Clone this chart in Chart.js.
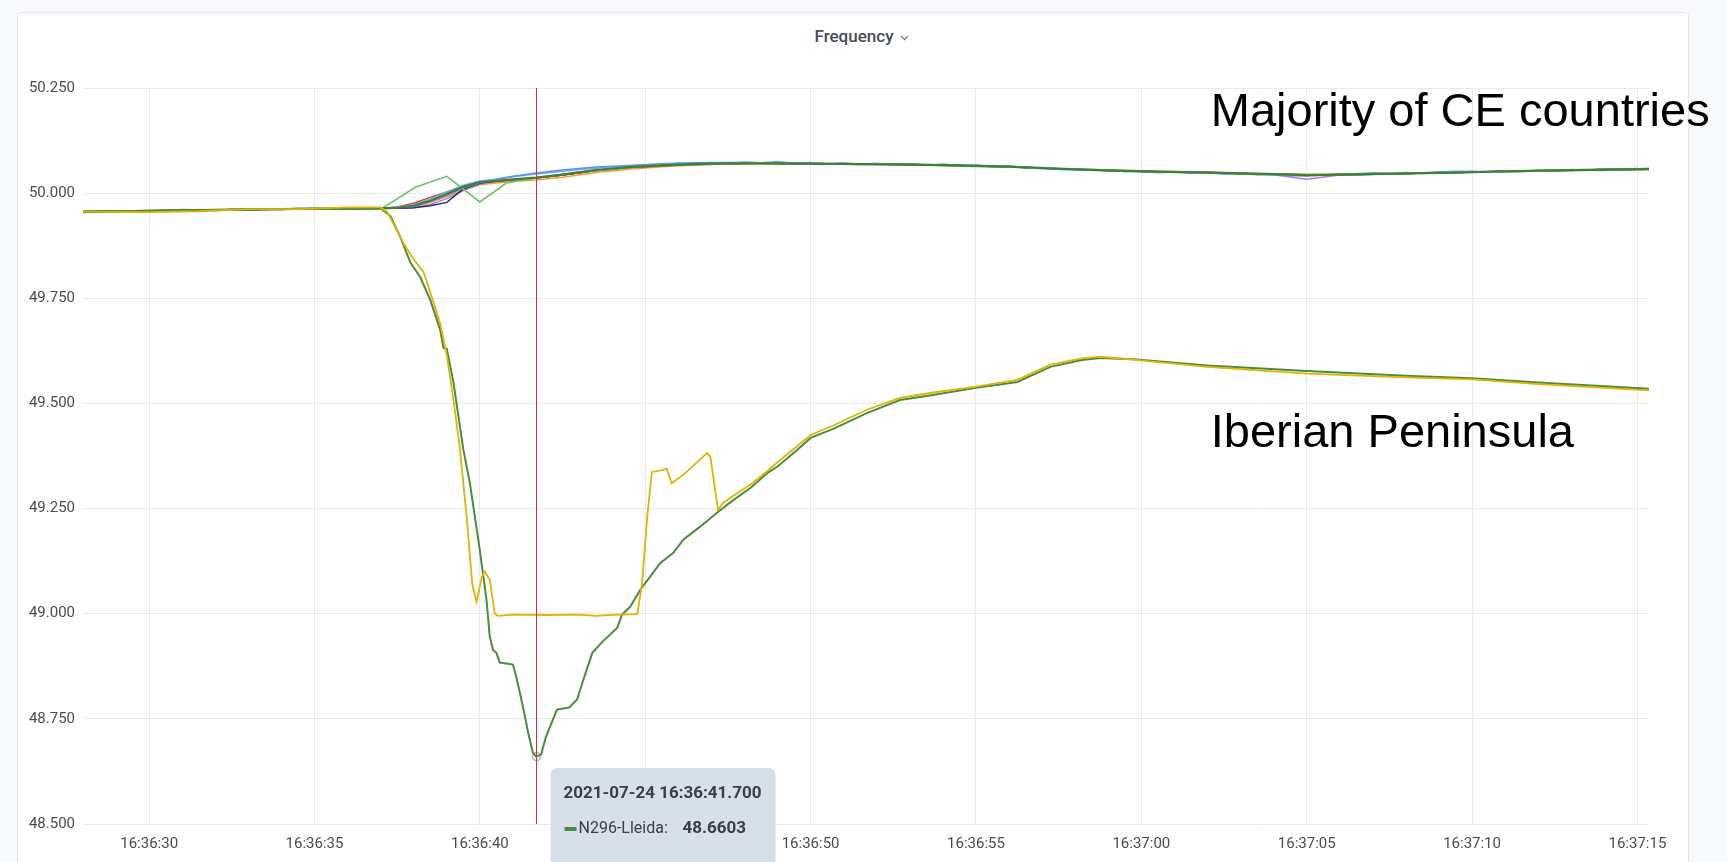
<!DOCTYPE html>
<html>
<head>
<meta charset="utf-8">
<title>Frequency</title>
<script src="https://cdn.jsdelivr.net/npm/chart.js@4.4.1/dist/chart.umd.min.js"></script>
<style>
  html, body { margin: 0; padding: 0; background: #f8f9fb; }
  body { width: 1727px; height: 862px; position: relative; overflow: hidden; }
  .panel { position: absolute; left: 17px; top: 12px; width: 1672px; height: 900px; background: #fff;
           border: 1px solid #e1e4ea; border-radius: 4px; box-sizing: border-box; }
  .panel-title { position: absolute; left: 0; top: 26px; width: 1724px; text-align: center;
                 font: 500 17px Roboto, sans-serif; color: #464c54; }
  .panel-title svg { margin-left: 7px; vertical-align: middle; }
  canvas { position: absolute; left: 0; top: 0; }
</style>
</head>
<body>
<div class="panel"></div>
<div class="panel-title">Frequency<svg width="9" height="6" viewBox="0 0 9 6"><path d="M1 1 L4.5 4.5 L8 1" fill="none" stroke="#7b8087" stroke-width="1.3"/></svg></div>
<canvas id="freqChart" width="1727" height="862"></canvas>
<script>
// time is seconds after 16:36:00, values in Hz
const xTicks = [30, 35, 40, 45, 50, 55, 60, 65, 70, 75];
const yTicks = [48.5, 48.75, 49, 49.25, 49.5, 49.75, 50, 50.25];

// Iberian peninsula, N296-Lleida (green)
const lleidaTimes = [28, 30, 32, 34, 36, 37.0, 37.3, 37.6, 37.9, 38.2, 38.5, 38.8, 38.9, 39.0, 39.2,
  39.5, 39.7, 40.0, 40.2, 40.3, 40.4, 40.5, 40.6, 41.0, 41.1, 41.3, 41.46, 41.6, 41.7, 41.85, 42.0,
  42.33, 42.7, 42.94, 43.1, 43.4, 43.7, 44.15, 44.3, 44.55, 44.85, 45.15, 45.45, 45.85, 46.15, 46.66,
  47.17, 47.66, 48.2, 48.7, 49.0, 49.6, 50.0, 50.7, 51.7, 52.7, 53.7, 55.0, 56.25, 57.25, 58.2, 58.76,
  59.76, 62, 65, 68, 70, 72, 75.35];
const lleidaValues = [49.956, 49.958, 49.960, 49.962, 49.963, 49.964, 49.945, 49.895, 49.835, 49.800,
  49.746, 49.675, 49.632, 49.630, 49.55, 49.39, 49.31, 49.15, 49.033, 48.945, 48.914, 48.907, 48.884,
  48.879, 48.85, 48.78, 48.717, 48.67, 48.6603, 48.665, 48.708, 48.772, 48.777, 48.796, 48.836, 48.907,
  48.933, 48.966, 48.998, 49.017, 49.057, 49.088, 49.12, 49.145, 49.176, 49.207, 49.24, 49.27, 49.30,
  49.335, 49.35, 49.39, 49.418, 49.44, 49.477, 49.508, 49.52, 49.537, 49.551, 49.587, 49.603, 49.608,
  49.605, 49.59, 49.577, 49.566, 49.56, 49.55, 49.535];

// Iberian peninsula, second station (yellow)
const iberYellowTimes = [28, 30, 31.5, 33, 34.5, 36, 37.0, 37.2, 37.4, 37.7, 38.0, 38.3, 38.6, 38.8,
  39.0, 39.1, 39.25, 39.4, 39.6, 39.77, 39.9, 40.06, 40.15, 40.3, 40.45, 40.55, 41.0, 42.0, 43.0, 43.5,
  44.0, 44.76, 44.9, 45.06, 45.2, 45.55, 45.65, 45.8, 46.15, 46.87, 46.97, 47.2, 47.36, 47.7, 48.2,
  48.7, 49.0, 50.0, 50.7, 51.7, 52.7, 53.7, 55.0, 56.25, 57.25, 58.2, 58.76, 59.76, 60.5, 62, 65, 68,
  70, 72, 75.35];
const iberYellowValues = [49.956, 49.955, 49.957, 49.962, 49.962, 49.966, 49.966, 49.955, 49.925,
  49.880, 49.842, 49.812, 49.740, 49.690, 49.615, 49.563, 49.480, 49.390, 49.230, 49.070, 49.028,
  49.088, 49.100, 49.080, 49.000, 48.995, 48.998, 48.997, 48.998, 48.995, 48.997, 48.999, 49.070,
  49.230, 49.337, 49.342, 49.345, 49.310, 49.330, 49.382, 49.373, 49.247, 49.264, 49.282, 49.308,
  49.340, 49.360, 49.425, 49.448, 49.485, 49.513, 49.526, 49.540, 49.556, 49.592, 49.607, 49.611,
  49.604, 49.598, 49.587, 49.571, 49.562, 49.557, 49.546, 49.531];

// continental europe stations, shared time grid
const ceTimes = [28, 29, 30, 31, 32, 33, 34, 35, 36, 37, 37.5, 38, 38.5, 39, 39.5, 40, 40.5, 41, 41.7,
  42.5, 43.5, 44.5, 45.5, 46.5, 47.5, 48.5, 50, 51.5, 53, 54.5, 56, 57.5, 59, 60.5, 62, 63, 64, 65, 66,
  67, 68, 69.5, 71, 72.5, 74, 75.35];
const ceGreen = [49.956, 49.957, 49.958, 49.959, 49.960, 49.961, 49.962, 49.963, 49.963, 49.964,
  49.965, 49.970, 49.982, 49.998, 50.015, 50.026, 50.029, 50.033, 50.037, 50.044, 50.055, 50.062,
  50.066, 50.069, 50.071, 50.071, 50.070, 50.069, 50.068, 50.066, 50.063, 50.058, 50.054, 50.051,
  50.049, 50.047, 50.045, 50.043, 50.044, 50.045, 50.047, 50.049, 50.052, 50.054, 50.056, 50.057];
const ceBlue = [49.954, 49.958, 49.957, 49.961, 49.959, 49.963, 49.961, 49.964, 49.962, 49.965,
  49.966, 49.968, 49.980, 49.995, 50.012, 50.025, 50.033, 50.040, 50.048, 50.055, 50.062, 50.066,
  50.070, 50.072, 50.073, 50.072, 50.071, 50.068, 50.069, 50.064, 50.062, 50.056, 50.053, 50.049,
  50.050, 50.046, 50.044, 50.041, 50.045, 50.048, 50.046, 50.052, 50.050, 50.055, 50.054, 50.059];
const ceOrange = [49.956, 49.957, 49.958, 49.959, 49.960, 49.961, 49.962, 49.962, 49.963, 49.964,
  49.964, 49.967, 49.978, 49.992, 50.008, 50.020, 50.024, 50.028, 50.031, 50.038, 50.049, 50.057,
  50.063, 50.067, 50.069, 50.070, 50.070, 50.069, 50.067, 50.066, 50.062, 50.058, 50.055, 50.052,
  50.050, 50.048, 50.046, 50.045, 50.045, 50.046, 50.047, 50.049, 50.051, 50.053, 50.055, 50.056];
const ceRed = [49.956, 49.957, 49.958, 49.959, 49.960, 49.961, 49.962, 49.963, 49.963, 49.964,
  49.967, 49.976, 49.990, 50.003, 50.017, 50.026, 50.029, 50.032, 50.036, 50.043, 50.053, 50.061,
  50.065, 50.068, 50.070, 50.071, 50.070, 50.069, 50.068, 50.066, 50.063, 50.058, 50.054, 50.051,
  50.049, 50.047, 50.045, 50.044, 50.044, 50.045, 50.047, 50.049, 50.052, 50.054, 50.056, 50.057];
const cePurple = [49.956, 49.957, 49.958, 49.959, 49.960, 49.961, 49.962, 49.963, 49.963, 49.964,
  49.964, 49.965, 49.973, 49.987, 50.006, 50.021, 50.028, 50.032, 50.036, 50.043, 50.054, 50.061,
  50.066, 50.069, 50.070, 50.071, 50.070, 50.069, 50.068, 50.066, 50.063, 50.058, 50.054, 50.051,
  50.049, 50.046, 50.044, 50.033, 50.043, 50.045, 50.047, 50.049, 50.052, 50.054, 50.056, 50.057];
const ceNavy = [49.956, 49.957, 49.958, 49.959, 49.960, 49.961, 49.962, 49.963, 49.963, 49.964,
  49.964, 49.965, 49.970, 49.978, 50.010, 50.024, 50.028, 50.032, 50.036, 50.043, 50.054, 50.061,
  50.066, 50.069, 50.071, 50.071, 50.070, 50.069, 50.068, 50.066, 50.063, 50.058, 50.054, 50.051,
  50.049, 50.047, 50.045, 50.043, 50.044, 50.045, 50.047, 50.049, 50.052, 50.054, 50.056, 50.057];
const ceCyan = [49.955, 49.956, 49.958, 49.958, 49.960, 49.960, 49.962, 49.962, 49.963, 49.963,
  49.965, 49.969, 49.981, 49.996, 50.013, 50.024, 50.028, 50.032, 50.037, 50.045, 50.055, 50.062,
  50.066, 50.069, 50.071, 50.071, 50.070, 50.069, 50.067, 50.066, 50.062, 50.058, 50.054, 50.051,
  50.048, 50.047, 50.045, 50.043, 50.044, 50.045, 50.047, 50.049, 50.052, 50.054, 50.056, 50.057];

// the noisiest light blue CE trace, sampled every half second
const skyTimes = [28, 28.5, 29, 29.5, 30, 30.5, 31, 31.5, 32, 32.5, 33, 33.5, 34, 34.5, 35, 35.5, 36,
  36.5, 37, 37.5, 38, 38.5, 39, 39.5, 40, 40.5, 41, 41.5, 42, 42.5, 43, 43.5, 44, 44.5, 45, 45.5, 46,
  46.5, 47, 47.5, 48, 48.5, 49, 49.5, 50, 50.5, 51, 51.5, 52, 52.5, 53, 53.5, 54, 54.5, 55, 55.5, 56,
  56.5, 57, 57.5, 58, 58.5, 59, 59.5, 60, 60.5, 61, 61.5, 62, 62.5, 63, 63.5, 64, 64.5, 65, 65.5, 66,
  66.5, 67, 67.5, 68, 68.5, 69, 69.5, 70, 70.5, 71, 71.5, 72, 72.5, 73, 73.5, 74, 74.5, 75];
const skyValues = [49.954, 49.957, 49.955, 49.958, 49.956, 49.959, 49.957, 49.961, 49.958, 49.962,
  49.960, 49.963, 49.961, 49.964, 49.961, 49.965, 49.962, 49.965, 49.963, 49.967, 49.972, 49.986,
  50.003, 50.019, 50.029, 50.033, 50.039, 50.044, 50.048, 50.052, 50.056, 50.059, 50.063, 50.064,
  50.067, 50.068, 50.071, 50.070, 50.073, 50.071, 50.074, 50.072, 50.075, 50.071, 50.073, 50.070,
  50.072, 50.069, 50.071, 50.068, 50.070, 50.066, 50.069, 50.065, 50.067, 50.063, 50.065, 50.060,
  50.061, 50.057, 50.058, 50.054, 50.056, 50.051, 50.053, 50.049, 50.051, 50.047, 50.049, 50.045,
  50.047, 50.043, 50.045, 50.041, 50.044, 50.042, 50.046, 50.044, 50.048, 50.046, 50.049, 50.047,
  50.051, 50.048, 50.052, 50.049, 50.053, 50.051, 50.055, 50.052, 50.056, 50.054, 50.058, 50.055,
  50.059];

// the one CE trace with a zigzag while the others rise
const zigTimes = [28, 32, 36, 37.05, 38.05, 39.0, 40.0, 40.8, 41.7, 43, 45, 48, 52, 56, 60, 65, 70, 75.35];
const zigValues = [49.956, 49.960, 49.963, 49.964, 50.014, 50.040, 49.979, 50.024, 50.036, 50.050,
  50.064, 50.071, 50.069, 50.063, 50.052, 50.043, 50.050, 50.057];

// hover readout
const hoverTime = 41.7;
const hoverValue = 48.6603;
const hoverStamp = '2021-07-24 16:36:41.700';
const hoverSeries = 'N296-Lleida';

// annotations
const noteLabels = ['Majority of CE countries', 'Iberian Peninsula'];
const noteTimes = [62.1, 62.1];
const noteValues = [50.19, 49.428];

const pts = (ts, vs) => ts.map((t, i) => ({ x: t, y: vs[i] }));

function clock(t) {
  const m = 36 + Math.floor(t / 60);
  const s = Math.round(t % 60);
  return '16:' + m + ':' + String(s).padStart(2, '0');
}

// first entry is drawn on top
const series = [
  { label: 'Iberian yellow', data: pts(iberYellowTimes, iberYellowValues), color: '#e0b400', width: 1.8 },
  { label: 'N296-Lleida', data: pts(lleidaTimes, lleidaValues), color: '#4a8c3b', width: 2 },
  { label: 'CE green', data: pts(ceTimes, ceGreen), color: '#3f8133', width: 2.2 },
  { label: 'CE zigzag', data: pts(zigTimes, zigValues), color: '#73bf69', width: 1.6 },
  { label: 'CE blue', data: pts(ceTimes, ceBlue), color: '#5794f2', width: 1.5 },
  { label: 'CE light blue', data: pts(skyTimes, skyValues), color: '#73a6ea', width: 1.5 },
  { label: 'CE red', data: pts(ceTimes, ceRed), color: '#e02f44', width: 1.5 },
  { label: 'CE navy', data: pts(ceTimes, ceNavy), color: '#2c2a63', width: 1.5 },
  { label: 'CE purple', data: pts(ceTimes, cePurple), color: '#b877d9', width: 1.5 },
  { label: 'CE cyan', data: pts(ceTimes, ceCyan), color: '#6ed0e0', width: 1.5 },
  { label: 'CE orange', data: pts(ceTimes, ceOrange), color: '#ff9830', width: 1.5 },
];

const overlay = {
  id: 'overlay',
  afterDatasetsDraw(chart) {
    const { ctx, chartArea, scales } = chart;
    const hx = Math.round(scales.x.getPixelForValue(hoverTime)) + 0.5;
    const hy = scales.y.getPixelForValue(hoverValue);
    ctx.save();
    // crosshair
    ctx.strokeStyle = '#d1302b';
    ctx.lineWidth = 1;
    ctx.beginPath();
    ctx.moveTo(hx, chartArea.top);
    ctx.lineTo(hx, chartArea.bottom);
    ctx.stroke();
    ctx.beginPath();
    ctx.arc(hx, hy, 4, 0, Math.PI * 2);
    ctx.strokeStyle = 'rgba(120,120,120,0.55)';
    ctx.lineWidth = 1.5;
    ctx.stroke();

    // annotation text
    ctx.fillStyle = '#000';
    ctx.font = '47px "Liberation Sans", Arial, sans-serif';
    ctx.textBaseline = 'middle';
    noteLabels.forEach((txt, i) => {
      ctx.fillText(txt, scales.x.getPixelForValue(noteTimes[i]), scales.y.getPixelForValue(noteValues[i]));
    });

    // tooltip box
    const bx = hx + 14, by = chartArea.bottom - 56;
    ctx.fillStyle = '#d7dfe9';
    ctx.beginPath();
    ctx.roundRect(bx, by, 225, 110, 7);
    ctx.fill();
    ctx.fillStyle = '#3b4048';
    ctx.font = 'bold 17px Roboto, sans-serif';
    ctx.fillText(hoverStamp, bx + 13, by + 26);
    ctx.fillStyle = '#4a8c3b';
    ctx.fillRect(bx + 14, by + 59, 12, 4);
    ctx.fillStyle = '#3b4048';
    ctx.font = '16px Roboto, sans-serif';
    ctx.fillText(hoverSeries + ':', bx + 28, by + 61);
    ctx.font = 'bold 17px Roboto, sans-serif';
    ctx.fillText(hoverValue.toFixed(4), bx + 132, by + 61);
    ctx.restore();
  }
};

function build() {
  Chart.defaults.font.family = 'Roboto, sans-serif';
  Chart.defaults.color = '#464c54';

  new Chart(document.getElementById('freqChart'), {
    type: 'line',
    data: {
      datasets: series.map(s => ({
        label: s.label,
        data: s.data,
        borderColor: s.color,
        backgroundColor: s.color,
        borderWidth: s.width,
        pointRadius: 0,
        tension: 0,
        fill: false,
      })),
    },
    options: {
      responsive: false,
      animation: false,
      events: [],
      layout: { padding: { left: 0, top: 88, right: 78, bottom: 0 } },
      plugins: { legend: { display: false }, tooltip: { enabled: false }, title: { display: false } },
      scales: {
        x: {
          type: 'linear',
          min: 28.0,
          max: 75.35,
          afterBuildTicks: s => { s.ticks = xTicks.map(v => ({ value: v })); },
          afterFit: s => { s.height = 38; },
          grid: { color: '#e8e9ed', drawTicks: false },
          border: { display: false },
          ticks: { padding: 11, maxRotation: 0, autoSkip: false, font: { size: 15 }, callback: v => clock(v) },
        },
        y: {
          min: 48.5,
          max: 50.25,
          afterBuildTicks: s => { s.ticks = yTicks.map(v => ({ value: v })); },
          afterFit: s => { s.width = 83; },
          grid: { color: '#e8e9ed', drawTicks: false },
          border: { display: false },
          ticks: { padding: 8, font: { size: 15 }, callback: v => v.toFixed(3) },
        },
      },
    },
    plugins: [overlay],
  });
}

Promise.all([
  document.fonts.load('15px Roboto'),
  document.fonts.load('bold 17px Roboto'),
  document.fonts.load('47px "Liberation Sans"'),
]).then(build, build);
</script>
</body>
</html>
